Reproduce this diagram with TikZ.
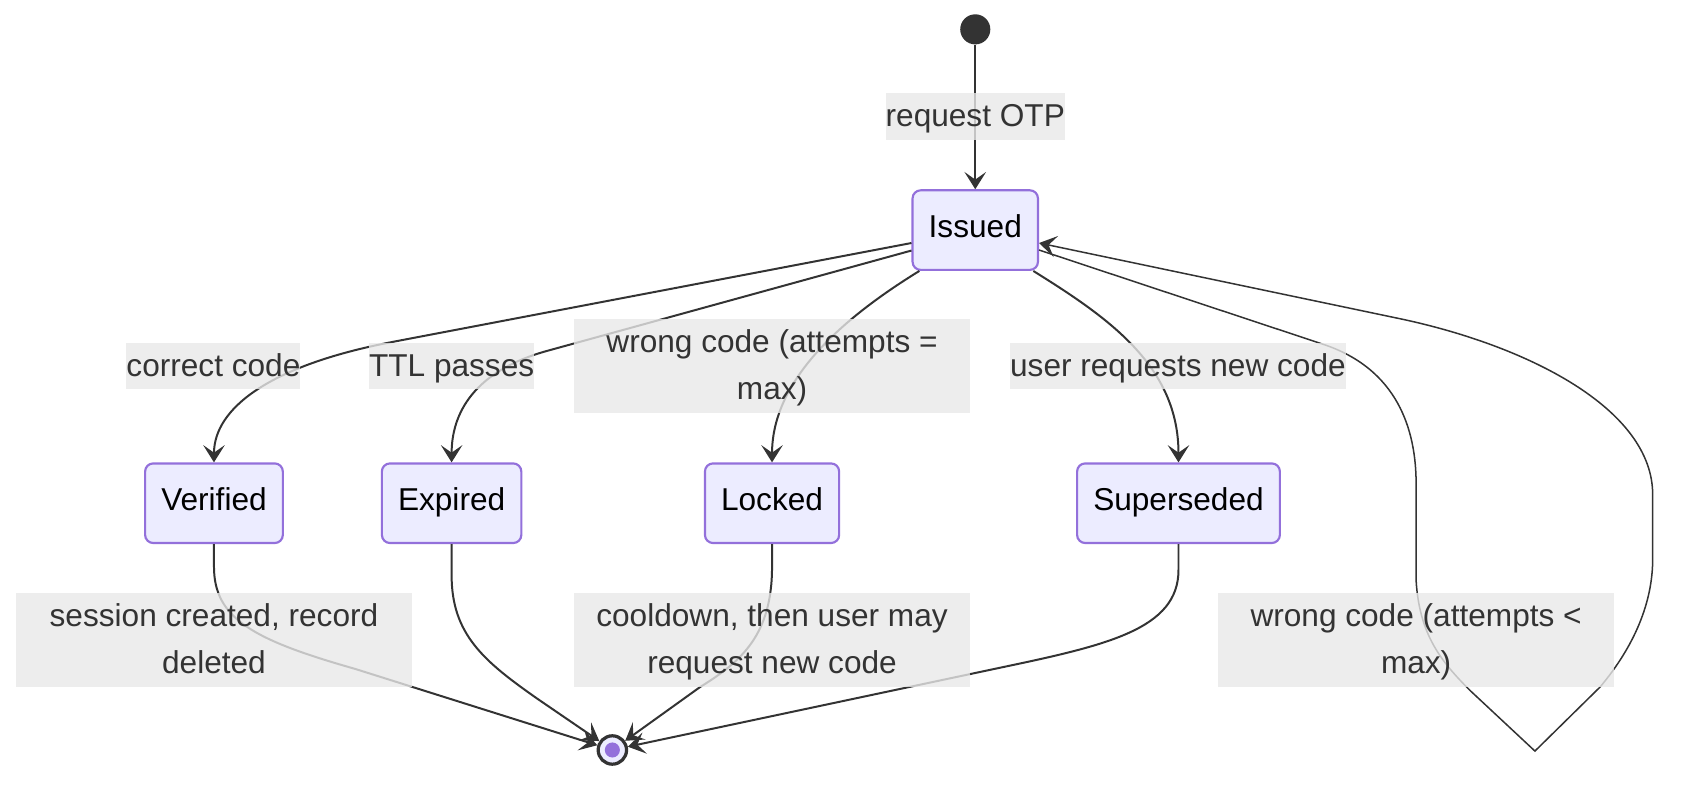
\documentclass[tikz,border=0pt]{standalone}
\usepackage{fontspec}
\setmainfont{Liberation Sans}
\usetikzlibrary{arrows.meta}
\definecolor{nodefill}{HTML}{ECECFF}
\definecolor{nodeline}{HTML}{9370DB}
\definecolor{edgec}{HTML}{333333}
\definecolor{lblbg}{HTML}{E8E8E8}
\newcommand{\lst}{\rule{0pt}{31pt}}
\newcommand{\lsb}{\rule[-12pt]{0pt}{12pt}}
\begin{document}
\begin{tikzpicture}[x=1pt,y=-1pt,
  state/.style={draw=nodeline, fill=nodefill, line width=2pt, rounded corners=7.5pt,
    inner xsep=15pt, inner ysep=0pt, minimum height=74pt, text height=21pt, text depth=7pt,
    font=\fontsize{29.4}{35}\selectfont, text=black},
  lbl/.style={fill=lblbg, fill opacity=0.8, text opacity=1, text=edgec, inner sep=0pt,
    font=\fontsize{29.4}{43.5}\selectfont},
  lbltwo/.style={lbl, align=center, minimum width=368pt, minimum height=87.5pt},
  conn/.style={draw=edgec, line width=1.85pt, -{Stealth[length=16pt,width=20pt,inset=7pt]}},
  loopline/.style={conn, line width=1.4pt}
]
\useasboundingbox (0,0) rectangle (1568,733);

% states
\node[circle, fill=edgec, minimum size=28pt, inner sep=0pt] (start) at (907,27.3) {};
\node[state] (issued) at (907,214) {Issued};
\node[state] (verified) at (199,468) {Verified};
\node[state] (expired) at (420,468) {Expired};
\node[state] (locked) at (718,468) {Locked};
\node[state] (superseded) at (1096,468) {Superseded};
\node[circle, draw=edgec, fill=nodefill, line width=3pt, minimum size=26.4pt, inner sep=0pt] (end) at (569.5,697.5) {};
\fill[nodeline] (end.center) circle (7pt);
\coordinate (loopbottom) at (1427.5,698.5);

% connectors
\draw[conn] (start) -- (issued);
\draw[conn] ([yshift=-12pt]issued.west) -- (365,318) .. controls (250,340) and (199,380) .. (verified.north);
\draw[conn] ([yshift=-19pt]issued.west) -- (510,326) .. controls (440,345) and (420,385) .. (expired.north);
\draw[conn] ([xshift=-52pt]issued.south) .. controls (790,292) and (718,350) .. (locked.north);
\draw[conn] ([xshift=54pt]issued.south) .. controls (1030,295) and (1096,340) .. (superseded.north);
\draw[loopline] ([yshift=-18.5pt]issued.east) -- (1230,320)
   .. controls (1300,343) and (1317,400) .. (1317,450) -- (1317,540)
   .. controls (1320,590) and (1340,615) .. (1367,642) -- (loopbottom)
   -- (1488,639) .. controls (1520,601) and (1537,560) .. (1537,520) -- (1537,460)
   .. controls (1537,380) and (1420,321) .. (1300,296) -- ([yshift=-12pt]issued.east);
\draw[conn] (verified.south) -- (199,527) .. controls (199,575) and (235,595) .. (330,622) -- (end);
\draw[conn] (expired.south) -- (420,535) .. controls (420,590) and (450,615) .. (500,650) -- (end);
\draw[conn] (locked.south) -- (718,527) .. controls (718,590) and (690,615) .. (651,639) -- (end);
\draw[conn] (superseded.south) -- (1096,530) .. controls (1096,585) and (1030,600) .. (930,621) -- (end);

% labels
\node[lbl] (lreq) at (907,108.25) {\lst request OTP\lsb};
\node[lbl] (lcorrect) at (198.5,340.5) {\lst correct code\lsb};
\node[lbl] (lttl) at (420,340.5) {\lst TTL passes\lsb};
\node[lbltwo] (lwrongmax) at (718,340.5) {\lst wrong code (attempts =\\ max)\lsb};
\node[lbl] (luser) at (1095.5,340.5) {\lst user requests new code\lsb};
\node[lbltwo] (lsession) at (199,595) {\lst session created, record\\ deleted\lsb};
\node[lbltwo] (lcool) at (718,595) {\lst cooldown, then user may\\ request new code\lsb};
\node[lbltwo] (lwrongless) at (1317,595) {\lst wrong code (attempts <\\ max)\lsb};
\end{tikzpicture}
\end{document}
